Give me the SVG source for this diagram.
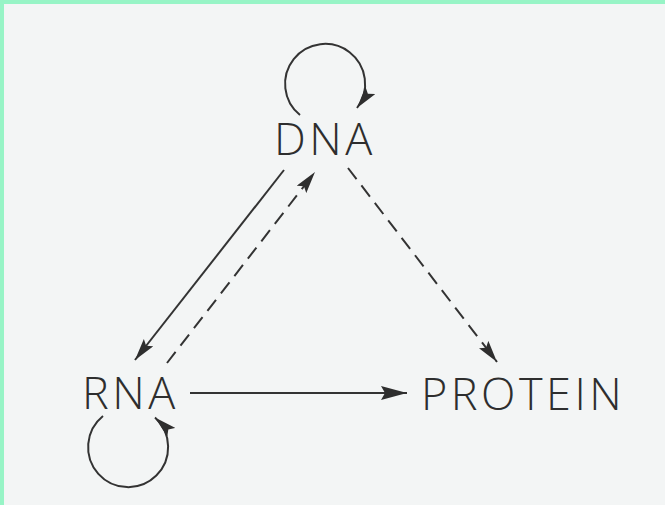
<svg xmlns="http://www.w3.org/2000/svg" width="665" height="505" viewBox="0 0 665 505">
  <style>
    .lbl { font-family: "Open Sans", "Liberation Sans", Arial, sans-serif; font-weight: 300; font-size: 45px; letter-spacing: 3.5px; fill: #2e2e2e; }
    .ln { fill: none; stroke: #333; stroke-width: 2; }
    .dash { stroke-dasharray: 14 8; }
  </style>
  <defs>
    <marker id="ah" viewBox="0 0 22 12" markerWidth="22" markerHeight="12" refX="22" refY="6" orient="auto" markerUnits="userSpaceOnUse">
      <path d="M0,0 L22,6 L0,12 L4,6 z" fill="#2e2e2e"/>
    </marker>
    <marker id="ahL" viewBox="0 0 26 14" markerWidth="26" markerHeight="14" refX="26" refY="7" orient="auto" markerUnits="userSpaceOnUse">
      <path d="M0,0 L26,7 L0,14 L4,7 z" fill="#2e2e2e"/>
    </marker>
  </defs>
  <rect x="0" y="0" width="665" height="505" fill="#f3f5f5"/>
  <rect x="0" y="0" width="665" height="4" fill="#97f4c6"/>
  <rect x="0" y="0" width="4" height="505" fill="#97f4c6"/>

  <g id="connectors">
    <path id="dna-self" class="ln" d="M300,115 A40,40 0 1 1 357,108" marker-end="url(#ah)"/>
    <path id="rna-self" class="ln" d="M103,416 A40,40 0 1 0 155,417.5" marker-end="url(#ah)"/>
    <line id="dna-rna" class="ln" x1="284" y1="170" x2="135" y2="360" marker-end="url(#ah)"/>
    <line id="rna-dna" class="ln dash" x1="167" y1="363" x2="315" y2="172" marker-end="url(#ah)"/>
    <line id="dna-protein" class="ln dash" x1="348" y1="168" x2="497" y2="362" marker-end="url(#ah)"/>
    <line id="rna-protein" class="ln" x1="190" y1="393" x2="407" y2="393" marker-end="url(#ahL)"/>
  </g>

  <g id="node-dna"><text class="lbl" x="274" y="155">DNA</text></g>
  <g id="node-rna"><text class="lbl" x="82" y="409">RNA</text></g>
  <g id="node-protein"><text class="lbl" x="421" y="410">PROTEIN</text></g>
</svg>
